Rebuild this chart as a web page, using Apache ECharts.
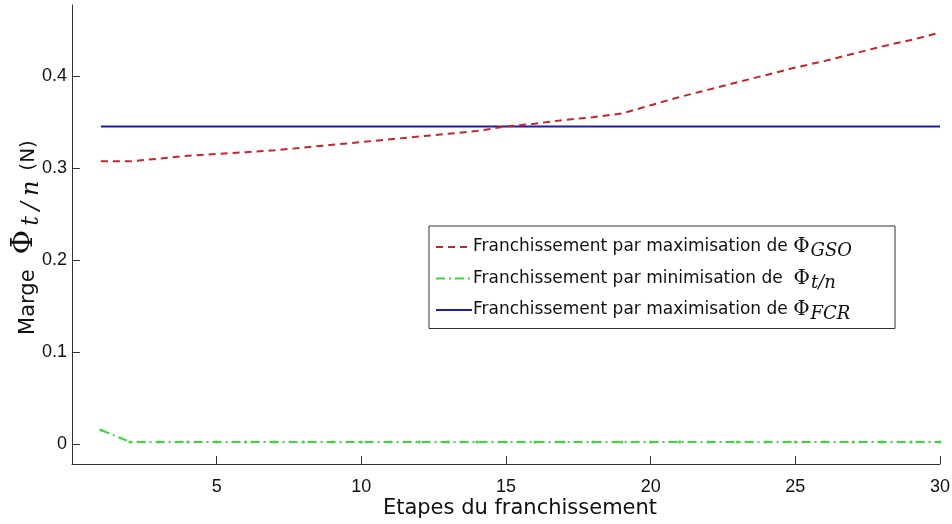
<!DOCTYPE html>
<html><head><meta charset="utf-8">
<script src="https://cdn.jsdelivr.net/npm/echarts@6/dist/echarts.min.js"></script>
<style>html,body{margin:0;padding:0;background:#fff}#c{width:952px;height:524px}</style>
</head><body><div id="c"></div>
<script>
const steps = [1,2,3,4,5,6,7,8,9,10,11,12,13,14,15,16,17,18,19,20,21,22,23,24,25,26,27,28,29,30];
const gsoValues = [0.307,0.307,0.310,0.313,0.315,0.317,0.319,0.322,0.325,0.328,0.331,0.334,0.337,0.340,0.345,0.348,0.352,0.355,0.359,0.368,0.377,0.385,0.393,0.401,0.409,0.416,0.424,0.432,0.439,0.447];
const tnValues = [0.015,0.002,0.002,0.002,0.002,0.002,0.002,0.002,0.002,0.002,0.002,0.002,0.002,0.002,0.002,0.002,0.002,0.002,0.002,0.002,0.002,0.002,0.002,0.002,0.002,0.002,0.002,0.002,0.002,0.002];
const fcrValues = [0.345,0.345,0.345,0.345,0.345,0.345,0.345,0.345,0.345,0.345,0.345,0.345,0.345,0.345,0.345,0.345,0.345,0.345,0.345,0.345,0.345,0.345,0.345,0.345,0.345,0.345,0.345,0.345,0.345,0.345];
const xTicks = [5,10,15,20,25,30];
const yTicks = [0,0.1,0.2,0.3,0.4];
const seriesNames = ['Franchissement par maximisation de ΦGSO','Franchissement par minimisation de Φt/n','Franchissement par maximisation de ΦFCR'];
const legendParts = [['Franchissement par maximisation de ','GSO'],['Franchissement par minimisation de  ','t/n'],['Franchissement par maximisation de ','FCR']];

const pair = arr => steps.map((s,i)=>[s,arr[i]]);
const chart = echarts.init(document.getElementById('c'), null, {renderer:'canvas'});
chart.setOption({
  animation:false,
  backgroundColor:'#fff',
  grid:{left:72,right:12,top:5,bottom:60,outerBoundsMode:'none',containLabel:false},
  xAxis:{type:'value',min:0,max:30,
    axisLine:{show:true,onZero:false,lineStyle:{color:'#333',width:1}},
    axisTick:{show:true,inside:true,length:8,customValues:xTicks,lineStyle:{color:'#333',width:1}},
    axisLabel:{customValues:xTicks,color:'#111',fontFamily:'Liberation Sans',fontSize:18,margin:14},
    splitLine:{show:false},
    name:'Etapes du franchissement',nameLocation:'middle',nameGap:34,nameMoveOverlap:false,
    nameTextStyle:{fontFamily:'DejaVu Sans',fontSize:21,color:'#111',padding:[0,0,0,28]}
  },
  yAxis:{type:'value',min:-0.022,max:0.477,
    axisLine:{show:true,onZero:false,lineStyle:{color:'#333',width:1}},
    axisTick:{show:true,inside:true,length:8,customValues:yTicks,lineStyle:{color:'#333',width:1}},
    axisLabel:{customValues:yTicks,color:'#111',fontFamily:'Liberation Sans',fontSize:18,margin:5,
      formatter:v=>v===0?'0':v.toFixed(1)},
    splitLine:{show:false},
    name:'{t|Marge}{phi|Φ}{s1|t}{sl|/}{s2|n}{n|(N)}',nameLocation:'middle',nameGap:28,nameRotate:90,nameMoveOverlap:false,
    nameTextStyle:{color:'#111',padding:[0,6,0,0],rich:{
      t:{fontFamily:'DejaVu Sans',fontSize:21,color:'#111',verticalAlign:'bottom',padding:[0,0,5,0]},
      phi:{fontFamily:'DejaVu Serif',fontSize:30,color:'#111',verticalAlign:'bottom',padding:[0,0,5,15]},
      s1:{fontFamily:'DejaVu Serif',fontStyle:'italic',fontSize:24,color:'#111',verticalAlign:'bottom',padding:[0,0,0,4]},
      sl:{fontFamily:'DejaVu Serif',fontStyle:'italic',fontSize:24,color:'#111',verticalAlign:'bottom',padding:[0,6,0,6]},
      s2:{fontFamily:'DejaVu Serif',fontStyle:'italic',fontSize:24,color:'#111',verticalAlign:'bottom'},
      n:{fontFamily:'DejaVu Sans',fontSize:20,color:'#111',verticalAlign:'bottom',padding:[0,0,5,10]}
    }}
  },
  legend:{orient:'vertical',left:429,top:226,
    backgroundColor:'#fff',borderColor:'#333',borderWidth:1,borderRadius:0,
    padding:[11,43,5,6],itemGap:8,itemWidth:36,itemHeight:14,
    itemStyle:{opacity:0},
    data:seriesNames,
    formatter:name=>{const p=legendParts[seriesNames.indexOf(name)];return '{t|'+p[0]+'}{phi|Φ}{sub|'+p[1]+'}';},
    textStyle:{padding:[0,0,0,-4],rich:{
      t:{fontFamily:'DejaVu Sans',fontSize:17,color:'#111'},
      phi:{fontFamily:'DejaVu Serif',fontSize:20,color:'#111'},
      sub:{fontFamily:'DejaVu Serif',fontStyle:'italic',fontSize:18,color:'#111',padding:[9,0,0,1]}
    }}
  },
  series:[
    {name:seriesNames[0],type:'line',data:pair(gsoValues),showSymbol:false,symbol:'none',
      lineStyle:{color:'#c8232b',width:2,type:[7,5]},itemStyle:{color:'#c8232b'},z:3},
    {name:seriesNames[1],type:'line',data:pair(tnValues),symbol:'circle',symbolSize:3,showSymbol:true,
      lineStyle:{color:'#33dd33',width:2,type:[9,4,2,4]},itemStyle:{color:'#33dd33'},z:2},
    {name:seriesNames[2],type:'line',data:pair(fcrValues),showSymbol:false,symbol:'none',
      lineStyle:{color:'#1c1cb0',width:2},itemStyle:{color:'#1c1cb0'},z:1}
  ]
});
</script></body></html>
